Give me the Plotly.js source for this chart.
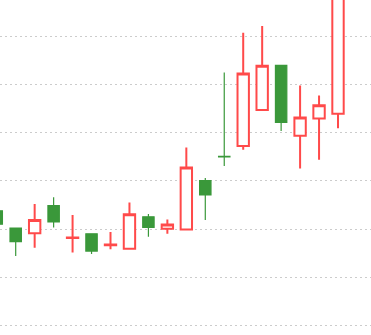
<!DOCTYPE html>
<html>
<head>
<meta charset="utf-8">
<script src="https://cdn.plot.ly/plotly-3.0.1.min.js"></script>
<style>html,body{margin:0;padding:0;background:#fff;}#chart{width:371px;height:335px;}</style>
</head>
<body>
<div id="chart"></div>
<script>
var days = [0,1,2,3,4,5,6,7,8,9,10,11,12,13,14,15,16,17,18];
var openVals  = [23.8, 20.2, 19.1, 24.85, 18.1, 19.0, 16.6, 15.9, 22.55, 20.05, 19.9, 30.1, 35.15, 37.3, 44.8, 54.1, 39.4, 43.0, 44.0];
var highVals  = [24.3, 20.2, 25.2, 26.6, 22.9, 19.0, 19.4, 25.5, 23.1, 22.0, 37.0, 30.6, 52.6, 60.9, 62.3, 54.1, 49.9, 47.8, 75.0];
var lowVals   = [20.5, 14.4, 16.1, 20.3, 15.1, 14.8, 15.8, 15.9, 18.4, 19.0, 19.9, 21.9, 33.1, 36.5, 44.8, 40.4, 32.6, 34.4, 41.0];
var closeVals = [21.0, 17.35, 21.9, 21.5, 18.25, 15.4, 16.75, 23.05, 20.35, 20.95, 32.8, 27.1, 35.0, 52.4, 54.0, 42.2, 43.2, 45.8, 72.0];

var trace = {
  type: 'candlestick',
  x: days,
  open: openVals, high: highVals, low: lowVals, close: closeVals,
  increasing: {line: {color: '#ff4a4a', width: 2}, fillcolor: '#ffffff'},
  decreasing: {line: {color: '#3a983a', width: 1.2}, fillcolor: '#3a983a'},
  whiskerwidth: 0,
  hoverinfo: 'skip'
};

var layout = {
  width: 371, height: 335,
  margin: {l: 0, r: 0, t: 0, b: 0, pad: 0},
  paper_bgcolor: '#ffffff',
  plot_bgcolor: '#ffffff',
  showlegend: false,
  boxgap: 0.4,
  boxgroupgap: 0,
  xaxis: {
    range: [0.172, 19.74],
    visible: false,
    rangeslider: {visible: false},
    showgrid: false, zeroline: false
  },
  yaxis: {
    range: [-2.08, 67.7],
    dtick: 10, tick0: 0,
    showticklabels: false,
    ticks: '',
    showgrid: true,
    gridcolor: '#cccccc',
    gridwidth: 1,
    griddash: '2px,3px',
    zeroline: false,
    showline: false
  }
};

Plotly.newPlot('chart', [trace], layout, {staticPlot: true, displayModeBar: false});
</script>
</body>
</html>
